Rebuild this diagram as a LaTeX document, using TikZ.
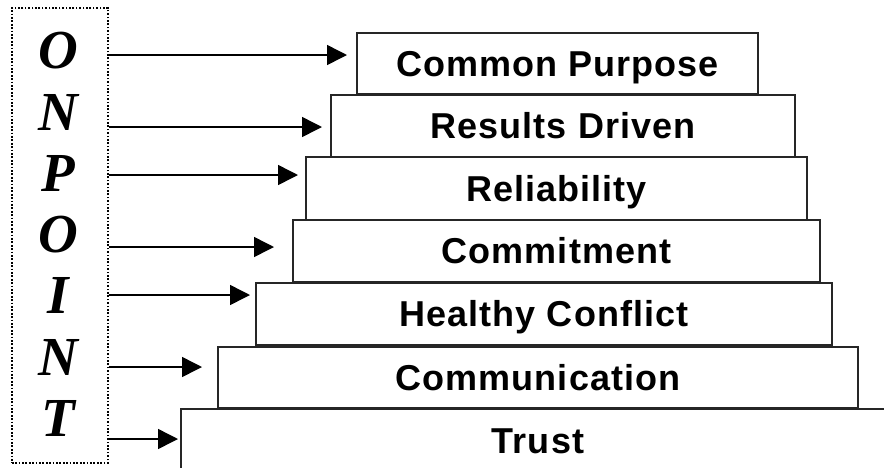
\documentclass[tikz,border=0pt]{standalone}
\usepackage{fontspec}
\setmainfont{Liberation Sans}
\newfontfamily\boxfont[LetterSpace=3]{Liberation Sans}
\newfontfamily\letterfont{Liberation Serif}
\usetikzlibrary{arrows.meta}
\tikzset{
  stepbox/.style={draw=black!85, line width=1.3pt, fill=white, inner sep=0pt, anchor=center,
    font=\boxfont\fontsize{36}{40}\selectfont\bfseries, text height=25.8pt, text depth=0pt},
  letter/.style={inner sep=0pt, anchor=center,
    font=\letterfont\fontsize{55}{58}\selectfont\bfseries\itshape, text height=36pt, text depth=0pt},
  conn/.style={line width=1.5pt, -{Triangle[length=20pt,width=20pt]}},
  frame/.style={draw, line width=1.7pt, dash pattern=on 1.7pt off 1.7pt, inner sep=0pt}
}
\begin{document}
\begin{tikzpicture}[x=1pt,y=-1pt]
\useasboundingbox (0,0) rectangle (884,467);
% frame with letters
\node[frame, minimum width=96pt, minimum height=455pt, anchor=north west] (frame) at (11,7) {};
\node[letter] (l1) at (58,50) {O};
\node[letter] (l2) at (58,112) {N};
\node[letter] (l3) at (58,173) {P};
\node[letter] (l4) at (58,234) {O};
\node[letter] (l5) at (58,295) {I};
\node[letter] (l6) at (58,357) {N};
\node[letter] (l7) at (58,418) {T};
% trust (bottom step, runs off the page)
\draw[draw=black!85, line width=1.3pt] (181,470) -- (181,409) -- (890,409);
\node[stepbox, draw=none, fill=none] (trust) at (538,440.5) {Trust};
% steps
\node[stepbox, minimum width=640pt, minimum height=61pt] (s6) at (538,377.5) {Communication};
\node[stepbox, minimum width=576pt, minimum height=62pt] (s5) at (544,314) {Healthy Conflict};
\node[stepbox, minimum width=527pt, minimum height=62pt] (s4) at (556.5,251) {Commitment};
\node[stepbox, minimum width=501pt, minimum height=63pt] (s3) at (556.5,188.5) {Reliability};
\node[stepbox, minimum width=464pt, minimum height=62pt] (s2) at (563,126) {Results Driven};
\node[stepbox, minimum width=401pt, minimum height=61pt] (s1) at (557.5,63.5) {Common Purpose};
% arrow tips
\coordinate (a1) at (347,55);
\coordinate (a2) at (322,127);
\coordinate (a3) at (298,175);
\coordinate (a4) at (274,247);
\coordinate (a5) at (250,295);
\coordinate (a6) at (202,367);
\coordinate (a7) at (178,439);
\foreach \i in {1,...,7}{
  \draw[conn] (frame.east |- a\i) -- (a\i);
}
\end{tikzpicture}
\end{document}
